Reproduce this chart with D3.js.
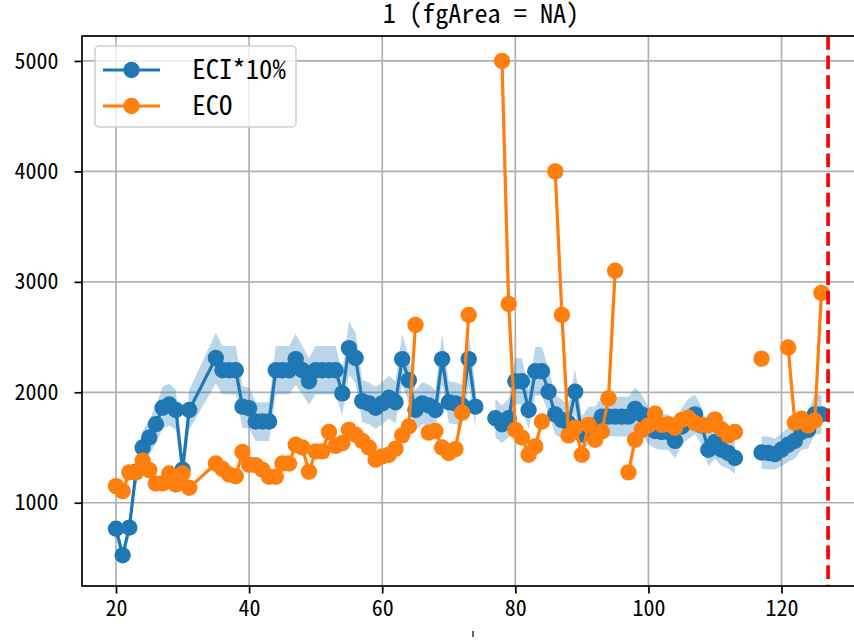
<!DOCTYPE html>
<html><head><meta charset="utf-8">
<script src="https://cdn.jsdelivr.net/npm/d3@7"></script>
<style>body{margin:0;background:#fff}svg{display:block}</style>
</head><body>
<svg id="chart" width="854" height="640"></svg>
<script>
const days = [20,21,22,23,24,25,26,27,28,29,30,31,
  35,36,37,38,39,40,41,42,43,44,45,46,47,48,49,50,51,52,53,54,55,56,57,58,59,60,
  61,62,63,64,65,66,67,68,69,70,71,72,73,74,75,76,77,78,79,80,81,82,83,84,85,86,87,88,89,90,
  91,92,93,94,95,96,97,98,99,100,101,102,103,104,105,106,107,108,109,110,111,112,113,114,115,116,
  117,118,119,120,121,122,123,124,125,126];
const eci = [765,525,775,1280,1500,1590,1710,1860,1890,1840,1300,1840,
  2310,2200,2200,2200,1870,1855,1735,1735,1735,2200,2200,2200,2300,2200,2100,2200,2200,2200,2200,1990,2400,2310,1920,1900,1860,1900,
  1950,1910,2300,2110,1840,1900,1880,1840,2300,1910,1900,1880,2300,1870,null,null,1765,1710,1765,2100,2100,1840,2190,2190,2005,1800,1750,1720,2005,1620,
  1700,1700,1780,1780,1780,1780,1780,1850,1800,1700,1650,1640,1640,1560,1690,1760,1800,1700,1480,1550,1480,1450,1405,null,null,null,
  1455,1450,1440,1480,1525,1560,1640,1660,1800,1800];
const eciLow = [690,470,700,1150,1350,1430,1540,1670,1700,1660,1170,1660,
  2080,1980,1980,1980,1680,1670,1560,1560,1560,1980,1980,1980,2070,1980,1890,1980,1980,1980,1980,1790,2160,2080,1730,1710,1670,1710,
  1760,1720,2070,1900,1660,1710,1690,1660,2070,1720,1710,1690,2070,1680,null,null,1590,1540,1590,1890,1890,1660,1970,1970,1800,1620,1580,1550,1800,1460,
  1530,1530,1600,1600,1600,1600,1600,1670,1620,1530,1490,1480,1480,1400,1520,1580,1620,1530,1330,1400,1330,1310,1260,null,null,null,
  1310,1300,1300,1330,1370,1400,1480,1490,1620,1620];
const eciHigh = [840,580,850,1410,1650,1750,1880,2050,2080,2020,1430,2020,
  2540,2420,2420,2420,2060,2040,1910,1910,1910,2420,2420,2420,2530,2420,2310,2420,2420,2420,2420,2190,2640,2540,2110,2090,2050,2090,
  2150,2100,2530,2320,2020,2090,2070,2020,2530,2100,2090,2070,2530,2060,null,null,1940,1880,1940,2310,2310,2020,2410,2410,2210,1980,1930,1890,2210,1780,
  1870,1870,1960,1960,1960,1960,1960,2040,1980,1870,1820,1800,1800,1720,1860,1940,1980,1870,1630,1710,1630,1600,1550,null,null,null,
  1600,1600,1580,1630,1680,1720,1800,1830,1980,1980];
const eco = [1150,1105,1275,1275,1380,1295,1175,1175,1265,1165,1265,1135,
  1355,1305,1255,1240,1460,1345,1340,1300,1235,1235,1355,1355,1525,1500,1280,1465,1465,1640,1515,1540,1660,1615,1560,1500,1390,1420,
  1435,1490,1610,1690,2610,null,1635,1650,1500,1450,1485,1815,2700,null,null,null,null,5000,2800,1660,1590,1435,1510,1735,null,4000,2700,1610,1680,1435,
  1705,1570,1645,1945,3100,null,1275,1570,1660,1700,1805,1705,1710,1680,1750,1770,1720,1705,1700,1755,1665,1610,1640,null,null,null,
  2305,null,null,null,2405,1725,1760,1700,1745,2900];
const xTicks = [20,40,60,80,100,120];
const yTicks = [1000,2000,3000,4000,5000];
const redLineX = 127;
const titleText = "1 (fgArea = NA)";
const seriesNames = [" ECI*10%", " ECO"];

(function () {
const svg = d3.select("#chart");
const L = 82, R = 880, T = 36, B = 586;
const x = d3.scaleLinear().domain([14.89, 14.89 + (R - L) / 6.655]).range([L, R]);
const y = d3.scaleLinear().domain([246, 5226]).range([B, T]);
const FONT = "'Noto Sans Mono CJK JP', 'Noto Sans Mono CJK SC', 'Liberation Mono', monospace";
const blue = "#1f77b4", orange = "#ff7f0e";

const rows = days.map((d, i) => ({x: d, eci: eci[i], lo: eciLow[i], hi: eciHigh[i], eco: eco[i]}));

svg.append("defs").append("clipPath").attr("id", "clip")
  .append("rect").attr("x", L).attr("y", T).attr("width", R - L).attr("height", B - T);

const g = svg.append("g");
g.selectAll(".gx").data(xTicks).enter().append("line")
  .attr("x1", d => x(d)).attr("x2", d => x(d)).attr("y1", T).attr("y2", B)
  .attr("stroke", "#b0b0b0").attr("stroke-width", 1.7);
g.selectAll(".gy").data(yTicks).enter().append("line")
  .attr("x1", L).attr("x2", R).attr("y1", d => y(d)).attr("y2", d => y(d))
  .attr("stroke", "#b0b0b0").attr("stroke-width", 1.7);

const plot = svg.append("g").attr("clip-path", "url(#clip)");

const area = d3.area().defined(d => d.lo != null)
  .x(d => x(d.x)).y0(d => y(d.lo)).y1(d => y(d.hi));
plot.append("path").datum(rows).attr("d", area).attr("fill", blue).attr("fill-opacity", 0.3);

function drawSeries(key, color) {
  const line = d3.line().defined(d => d[key] != null).x(d => x(d.x)).y(d => y(d[key]));
  plot.append("path").datum(rows).attr("d", line).attr("fill", "none")
    .attr("stroke", color).attr("stroke-width", 3.2).attr("stroke-linejoin", "round");
  plot.selectAll(".m" + key).data(rows.filter(d => d[key] != null)).enter().append("circle")
    .attr("cx", d => x(d.x)).attr("cy", d => y(d[key])).attr("r", 8.2).attr("fill", color);
}
drawSeries("eci", blue);
drawSeries("eco", orange);

plot.append("line").attr("x1", x(redLineX)).attr("x2", x(redLineX)).attr("y1", T).attr("y2", B)
  .attr("stroke", "#ff0000").attr("stroke-width", 3.7).attr("stroke-dasharray", "13.7,5.9");

const xAxis = d3.axisBottom(x).tickValues(xTicks).tickSize(7.5).tickPadding(7).tickFormat(d3.format("d"));
const yAxis = d3.axisLeft(y).tickValues(yTicks).tickSize(7.5).tickPadding(16).tickFormat(d3.format("d"));
const gx = svg.append("g").attr("transform", `translate(0,${B})`).call(xAxis);
const gy = svg.append("g").attr("transform", `translate(${L},0)`).call(yAxis);
[gx, gy].forEach(a => {
  a.select(".domain").remove();
  a.selectAll("line").attr("stroke", "#000").attr("stroke-width", 1.7);
  a.selectAll("text").attr("font-family", FONT).attr("font-size", 22).attr("fill", "#000");
});
svg.append("rect").attr("x", L).attr("y", T).attr("width", R - L).attr("height", B - T)
  .attr("fill", "none").attr("stroke", "#000").attr("stroke-width", 1.7);

svg.append("text").attr("x", 481).attr("y", 23).attr("text-anchor", "middle")
  .attr("font-family", FONT).attr("font-size", 26.2).text(titleText);

// top of the (cut-off) x-axis label peeking in at the bottom edge
svg.append("line").attr("x1", 473).attr("x2", 473).attr("y1", 631).attr("y2", 637)
  .attr("stroke", "#000").attr("stroke-width", 1.2);

const lg = svg.append("g");
lg.append("rect").attr("x", 95).attr("y", 46).attr("width", 201).attr("height", 81).attr("rx", 4)
  .attr("fill", "#fff").attr("fill-opacity", 0.8).attr("stroke", "#d0d0d0").attr("stroke-width", 1.5);
[[blue, 0], [orange, 1]].forEach(([c, i]) => {
  const yy = 70 + i * 36;
  lg.append("line").attr("x1", 103).attr("x2", 160).attr("y1", yy).attr("y2", yy).attr("stroke", c).attr("stroke-width", 3.2);
  lg.append("circle").attr("cx", 131.5).attr("cy", yy).attr("r", 8.2).attr("fill", c);
  lg.append("text").attr("x", 179).attr("y", yy).attr("dy", "0.35em").attr("font-family", FONT)
    .attr("font-size", 26.7).style("white-space", "pre").text(seriesNames[i]);
});
})();
</script>
</body></html>
